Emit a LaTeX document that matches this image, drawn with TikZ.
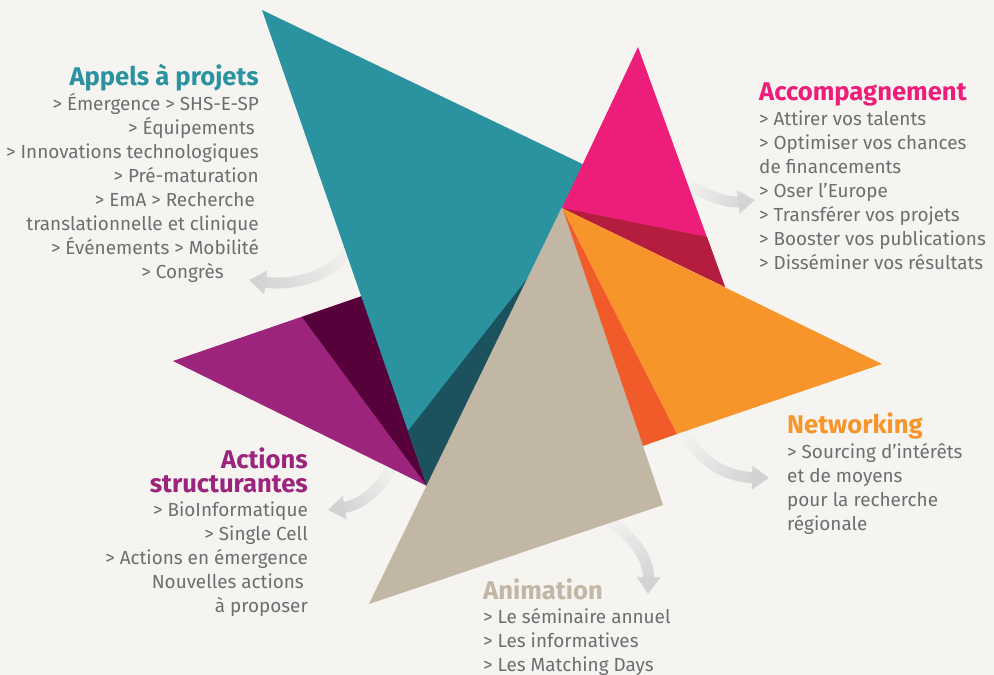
\documentclass[tikz,border=0pt]{standalone}
\usepackage{fontspec}
\setmainfont{Fira Sans}
\usetikzlibrary{arrows.meta,fadings}
\definecolor{bg}{HTML}{F5F4F1}
\definecolor{teal}{HTML}{2B92A0}
\definecolor{darkteal}{HTML}{1B525D}
\definecolor{pink}{HTML}{ED1E7A}
\definecolor{crimson}{HTML}{B41D3D}
\definecolor{orange}{HTML}{F7952B}
\definecolor{redorange}{HTML}{F15B2A}
\definecolor{beige}{HTML}{C2B6A5}
\definecolor{purple}{HTML}{9C247C}
\definecolor{darkpurple}{HTML}{57013A}
\definecolor{txtgray}{HTML}{6D6E70}
\definecolor{arrowgray}{HTML}{D0D2D4}
\tikzfading[name=arrowfade, left color=transparent!92, right color=transparent!0]
\begin{document}
\begin{tikzpicture}[x=1pt,y=-1pt,
  tri/.style={fill=#1, draw=none},
  garrow/.style={draw=arrowgray, line width=11pt, -{Triangle[width=23pt,length=17pt]}, path fading=arrowfade, fading angle=#1},
  body/.style={text=txtgray, inner sep=0pt, font=\fontsize{18.9}{24}\selectfont},
  ttl/.style={text=#1, inner sep=0pt, font=\fontsize{25.6}{24}\selectfont\bfseries}]
\fill[bg] (0,0) rectangle (994,675);
\useasboundingbox (0,0) rectangle (994,675);

% arrows (drawn first so their starts tuck under the triangles)
\coordinate (a1s) at (347,250); \coordinate (a1e) at (249,280);
\coordinate (a2s) at (690,185); \coordinate (a2e) at (755,200);
\coordinate (a3s) at (392,464); \coordinate (a3e) at (328,510);
\coordinate (a4s) at (686,432); \coordinate (a4e) at (769,478);
\coordinate (a5s) at (608,520); \coordinate (a5e) at (648,594);
\draw[garrow=196] (a1s) .. controls (332,277) and (292,286) .. (a1e);
\draw[garrow=-12] (a2s) .. controls (708,197) and (730,203) .. (a2e);
\draw[garrow=216] (a3s) .. controls (382,490) and (360,505) .. (a3e);
\draw[garrow=-28] (a4s) .. controls (697,462) and (728,477) .. (a4e);
\draw[garrow=-63] (a5s) .. controls (634,536) and (649,560) .. (a5e);

% purple
\fill[tri=purple] (173,361) -- (368,294) -- (427,486) -- cycle;
\fill[tri=darkpurple] (302,317) -- (368,294) -- (427,486) -- cycle;
% teal
\fill[tri=teal] (262,10) -- (595,170) -- (427,486) -- cycle;
\fill[tri=darkteal] (408,431) -- (534,270) -- (427,486) -- cycle;
% pink
\fill[tri=pink] (638,47) -- (725,287) -- (562,208) -- cycle;
\fill[tri=crimson] (562,208) -- (707,237) -- (725,287) -- cycle;
% orange
\fill[tri=orange] (562,208) -- (882,364) -- (677,434) -- cycle;
\fill[tri=redorange] (562,208) -- (677,434) -- (640,447) -- cycle;
% beige
\fill[tri=beige] (562,207) -- (663,505) -- (369,604) -- cycle;

% Appels a projets
\node[ttl=teal, anchor=base east] (t1) at (259,85) {Appels à projets};
\foreach \t/\xr [count=\i] in {{> Émergence > SHS-E-SP}/259, {> Équipements}/255, {> Innovations technologiques}/259, {> Pré-maturation}/259, {> EmA > Recherche}/255, {translationnelle et clinique}/259, {> Événements > Mobilité}/259, {> Congrès}/224}
  \node[body, anchor=base east] (ap\i) at (\xr,110+24*\i-24) {\t};

% Accompagnement
\node[ttl=pink, anchor=base west] (t2) at (759,100) {Accompagnement};
\foreach \t [count=\i] in {{> Attirer vos talents}, {> Optimiser vos chances}, {de financements}, {> Oser l’Europe}, {> Transférer vos projets}, {> Booster vos publications}, {> Disséminer vos résultats}}
  \node[body, anchor=base west] (ac\i) at (759,125+24*\i-24) {\t};

% Networking
\node[ttl=orange, anchor=base west] (t3) at (787,433) {Networking};
\foreach \t [count=\i] in {{> Sourcing d’intérêts}, {et de moyens}, {pour la recherche}, {régionale}}
  \node[body, anchor=base west] (nw\i) at (787,458+24*\i-24) {\t};

% Actions structurantes
\node[ttl=purple, anchor=base east] (t4a) at (308,468) {Actions};
\node[ttl=purple, anchor=base east] (t4b) at (308,492) {structurantes};
\foreach \t/\xr [count=\i] in {{> BioInformatique}/308, {> Single Cell}/308, {> Actions en émergence}/308, {Nouvelles actions}/304, {à proposer}/308}
  \node[body, anchor=base east] (as\i) at (\xr,516+24*\i-24) {\t};

% Animation
\node[ttl=beige, anchor=base west] (t5) at (483,599) {Animation};
\foreach \t [count=\i] in {{> Le séminaire annuel}, {> Les informatives}, {> Les Matching Days}}
  \node[body, anchor=base west] (an\i) at (483,623+24*\i-24) {\t};
\end{tikzpicture}
\end{document}
